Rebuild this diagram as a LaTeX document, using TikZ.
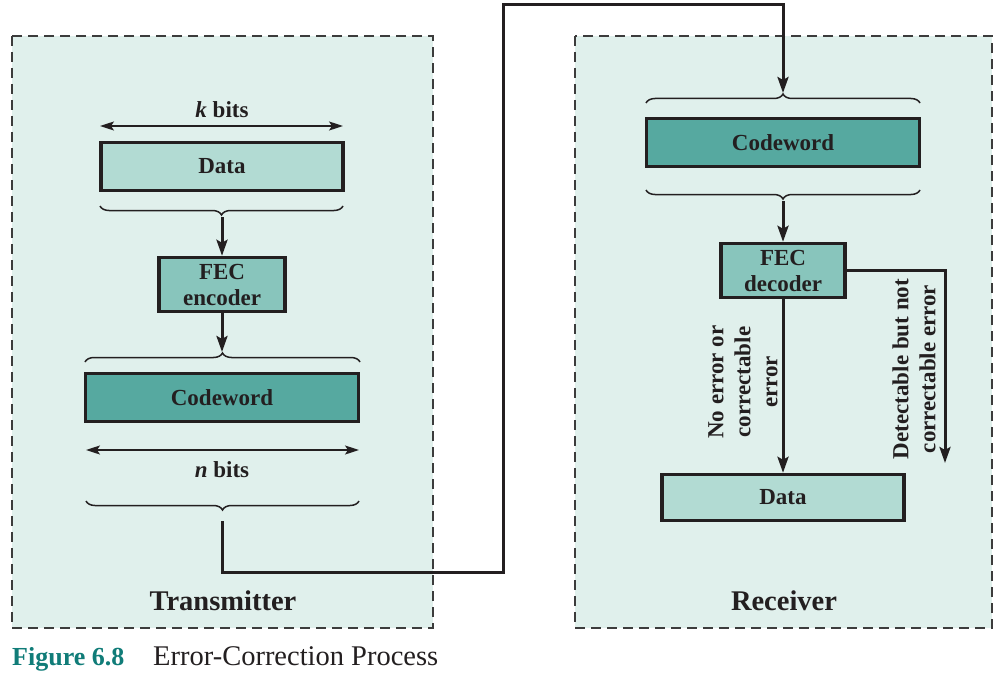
\documentclass[tikz,border=0pt]{standalone}
\usepackage{fontspec}
\setmainfont{Liberation Serif}
\usetikzlibrary{arrows.meta,decorations.pathreplacing}

\definecolor{ink}{RGB}{35,31,32}
\definecolor{panel}{RGB}{224,240,236}
\definecolor{dashc}{RGB}{60,60,60}
\definecolor{datafill}{RGB}{178,219,211}
\definecolor{fecfill}{RGB}{136,197,188}
\definecolor{cwfill}{RGB}{86,169,160}
\definecolor{capteal}{RGB}{16,124,120}

\tikzset{
  lbl/.style={font=\fontsize{23}{27}\selectfont\bfseries, text=ink},
  box/.style={draw=ink, line width=3.4pt, lbl, inner sep=0pt},
  databox/.style={box, fill=datafill},
  fecbox/.style={box, fill=fecfill, align=center},
  cwbox/.style={box, fill=cwfill},
  panelbox/.style={draw=dashc, fill=panel, line width=2pt, dash pattern=on 10pt off 6pt},
  flow/.style={draw=ink, line width=3pt, -{Stealth[length=16pt,width=11pt,inset=3pt]}},
  span/.style={draw=ink, line width=1.6pt,
    {Stealth[length=14pt,width=9pt,inset=3pt]}-{Stealth[length=14pt,width=9pt,inset=3pt]}},
  bracket/.style={draw=ink, line width=1.5pt, decorate, decoration={brace, amplitude=9pt}},
  sidelbl/.style={lbl, rotate=90, align=center, inner sep=0pt},
  title/.style={font=\fontsize{28.5}{32}\selectfont\bfseries, text=ink, inner sep=0pt},
}

\begin{document}
\begin{tikzpicture}[x=1pt,y=-1pt]
\useasboundingbox (0,0) rectangle (1001,682);

% the two dashed station panels
\draw[panelbox] (12,36) rectangle (433,628);
\draw[panelbox] (575,36) rectangle (992,628);

% ---------- transmitter ----------
\node[lbl, inner sep=0pt] (kbits) at (222,110) {\textit{k} bits};
\coordinate (kL) at (100,126);
\coordinate (kR) at (343,126);
\draw[span] (kL) -- (kR);

\node[databox, minimum width=242pt, minimum height=48pt] (tdata) at (222,166.5) {Data};

\draw[bracket] (343,206) -- (100,206);
\coordinate (b1tip) at (222,217);

\node[fecbox, minimum width=126pt, minimum height=54pt] (tfec) at (222,284.5) {FEC\\[-1pt]encoder};

\draw[bracket] (85,362) -- (360,362);
\coordinate (b2tip) at (222,352);

\node[cwbox, minimum width=273pt, minimum height=48pt] (tcw) at (222,397.5) {Codeword};

\coordinate (nL) at (86,450);
\coordinate (nR) at (359,450);
\draw[span] (nL) -- (nR);
\node[lbl, inner sep=0pt] (nbits) at (222,470) {\textit{n} bits};

\draw[bracket] (359,501) -- (86,501);
\coordinate (txout) at (222,521);

\draw[flow] (b1tip) -- (tfec.north);
\draw[flow] (tfec.south) -- (b2tip);

\node[title] (txname) at (223,601) {Transmitter};

% ---------- receiver ----------
\draw[bracket] (646,103) -- (920,103);
\coordinate (rxin) at (783,93);

\node[cwbox, minimum width=273pt, minimum height=48pt] (rcw) at (783,142.5) {Codeword};

\draw[bracket] (920,190) -- (646,190);
\coordinate (b5tip) at (783,201);

\node[fecbox, minimum width=124pt, minimum height=54pt] (rfec) at (783,270.5) {FEC\\[-1pt]decoder};

\node[databox, minimum width=242pt, minimum height=46pt] (rdata) at (783,497.5) {Data};

\coordinate (rdrop) at (945,463);

\draw[flow] (b5tip) -- (rfec.north);
\draw[flow] (rfec.south) -- (rdata.north);
\draw[flow] (rfec.east) -| (rdrop);

\node[sidelbl] (okpath) at (743,382) {No error or\\correctable\\error};
\node[sidelbl] (badpath) at (914,369) {Detectable but not\\correctable error};

\node[title] (rxname) at (784,601) {Receiver};

% ---------- channel between the stations ----------
\coordinate (hop1) at (503,572);
\coordinate (hop2) at (503,5);
\draw[flow] (txout) |- (hop1) -- (hop2) -| (rxin);

% ---------- caption ----------
\node[anchor=base west, inner sep=0pt, text=capteal,
      font=\fontsize{26}{30}\selectfont\bfseries] (capnum) at (12,665) {Figure 6.8};
\node[anchor=base west, inner sep=0pt, text=ink,
      font=\fontsize{28.5}{30}\selectfont] (captext) at (153,665) {Error-Correction Process};
\end{tikzpicture}
\end{document}
